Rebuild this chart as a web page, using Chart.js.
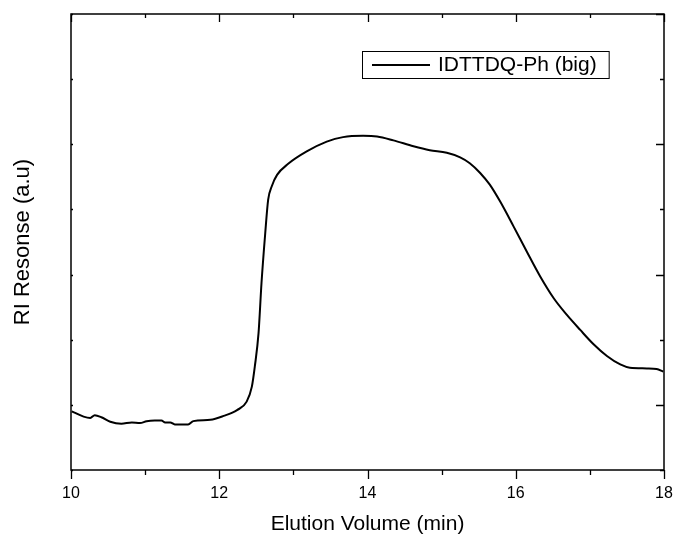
<!DOCTYPE html>
<html>
<head>
<meta charset="utf-8">
<script src="https://cdn.jsdelivr.net/npm/chart.js@4/dist/chart.umd.min.js"></script>
<style>
  html, body { margin: 0; padding: 0; background: #fff; }
  #wrap { width: 678px; height: 543px; }
</style>
</head>
<body>
<div id="wrap"><canvas id="gpc"></canvas></div>
<script>
// ── Data ──
const seriesLabel = 'IDTTDQ-Ph (big)';
const elution = [10.01, 10.17, 10.26, 10.32, 10.41, 10.53, 10.68, 10.82, 10.93, 11.02, 11.13, 11.22, 11.27, 11.34, 11.40, 11.58, 11.65, 11.88, 12.06, 12.24, 12.37, 12.44, 12.48, 12.53, 12.57, 12.62, 12.66, 12.71, 12.78, 12.93, 13.18, 13.45, 13.67, 13.94, 14.13, 14.35, 14.62, 14.84, 15.07, 15.25, 15.38, 15.52, 15.65, 15.79, 15.97, 16.15, 16.33, 16.51, 16.69, 16.87, 17.05, 17.23, 17.41, 17.54, 17.77, 17.90, 17.99];
const response = [0.90, 0.82, 0.80, 0.84, 0.81, 0.74, 0.71, 0.73, 0.72, 0.75, 0.76, 0.76, 0.73, 0.73, 0.70, 0.70, 0.75, 0.77, 0.83, 0.92, 1.05, 1.28, 1.59, 2.10, 2.87, 3.63, 4.15, 4.36, 4.53, 4.70, 4.89, 5.04, 5.11, 5.13, 5.12, 5.06, 4.97, 4.91, 4.87, 4.80, 4.71, 4.56, 4.38, 4.12, 3.74, 3.35, 2.97, 2.64, 2.38, 2.15, 1.93, 1.75, 1.62, 1.57, 1.56, 1.55, 1.51];
const xTicks = [10, 11, 12, 13, 14, 15, 16, 17, 18];
const xLabelled = [10, 12, 14, 16, 18];
const yTicks = [0, 1, 2, 3, 4, 5, 6, 7];
const yMajor = [1, 3, 5, 7];

const FONT = "'Liberation Sans', Arial, sans-serif";

// ── Frame + inward/outward ticks, Origin style ──
const framePlugin = {
  id: 'frame',
  afterDatasetsDraw(chart) {
    const { ctx, chartArea: a, scales: { x, y } } = chart;
    ctx.save();
    ctx.strokeStyle = '#000';
    ctx.lineWidth = 1.5;
    ctx.strokeRect(a.left, a.top, a.right - a.left, a.bottom - a.top);
    ctx.lineWidth = 1.3;
    ctx.beginPath();
    xTicks.forEach(v => {
      const px = Math.round(x.getPixelForValue(v)) + 0.5;
      const major = xLabelled.includes(v);
      // bottom: outward
      ctx.moveTo(px, a.bottom);
      ctx.lineTo(px, a.bottom + (major ? 9 : 5));
      // top: inward
      ctx.moveTo(px, a.top);
      ctx.lineTo(px, a.top + (major ? 8 : 4));
    });
    yTicks.forEach(v => {
      const py = Math.round(y.getPixelForValue(v)) + 0.5;
      const major = yMajor.includes(v);
      ctx.moveTo(a.right, py);
      ctx.lineTo(a.right - (major ? 8 : 4), py);
      ctx.moveTo(a.left, py);
      ctx.lineTo(a.left + 2, py);
    });
    ctx.stroke();
    ctx.restore();
  }
};

// ── Boxed legend in the upper right ──
const legendPlugin = {
  id: 'boxLegend',
  afterDraw(chart) {
    const { ctx } = chart;
    const label = chart.data.datasets[0].label;
    ctx.save();
    ctx.font = '21px ' + FONT;
    const tw = ctx.measureText(label).width;
    const x0 = 362, y0 = 51, h = 27;
    const w = 12 + 56 + 8 + tw + 12;
    ctx.fillStyle = '#fff';
    ctx.fillRect(x0, y0, w, h);
    ctx.strokeStyle = '#000';
    ctx.lineWidth = 1;
    ctx.strokeRect(x0 + 0.5, y0 + 0.5, w, h);
    ctx.lineWidth = 2;
    ctx.beginPath();
    ctx.moveTo(x0 + 10, y0 + h / 2 + 0.5);
    ctx.lineTo(x0 + 68, y0 + h / 2 + 0.5);
    ctx.stroke();
    ctx.fillStyle = '#000';
    ctx.textBaseline = 'middle';
    ctx.fillText(label, x0 + 76, y0 + h / 2 + 1);
    ctx.restore();
  }
};

new Chart(document.getElementById('gpc'), {
  type: 'line',
  data: {
    datasets: [{
      label: seriesLabel,
      data: elution.map((v, i) => ({ x: v, y: response[i] })),
      borderColor: '#000',
      borderWidth: 2,
      pointRadius: 0,
      fill: false,
      cubicInterpolationMode: 'monotone'
    }]
  },
  options: {
    responsive: true,
    maintainAspectRatio: false,
    animation: false,
    layout: { padding: { top: 14, right: 14, bottom: 2, left: 0 } },
    plugins: { legend: { display: false }, tooltip: { enabled: false } },
    scales: {
      x: {
        type: 'linear',
        min: 10,
        max: 18,
        grid: { display: false, drawTicks: false },
        border: { display: false },
        ticks: {
          stepSize: 2,
          padding: 14,
          color: '#000',
          font: { family: FONT, size: 16 }
        },
        title: {
          display: true,
          text: 'Elution Volume (min)',
          color: '#000',
          font: { family: FONT, size: 21 },
          padding: { top: 0, bottom: 4 }
        },
        afterFit: s => { s.height = 71; s.paddingLeft = 0; s.paddingRight = 0; }
      },
      y: {
        min: 0,
        max: 7,
        grid: { display: false, drawTicks: false },
        border: { display: false },
        ticks: { display: false },
        title: {
          display: true,
          text: 'RI Resonse (a.u)',
          color: '#000',
          font: { family: FONT, size: 22 },
          padding: { top: 10, bottom: 0 }
        },
        afterFit: s => { s.width = 71; }
      }
    }
  },
  plugins: [framePlugin, legendPlugin]
});
</script>
</body>
</html>
